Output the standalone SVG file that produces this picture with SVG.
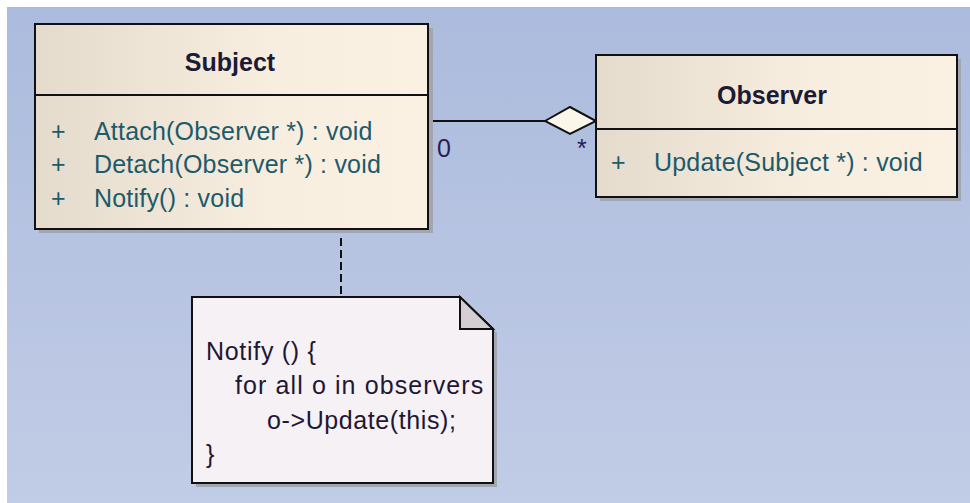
<svg xmlns="http://www.w3.org/2000/svg" width="970" height="503" viewBox="0 0 970 503">
  <defs>
    <linearGradient id="bg" x1="0" y1="0" x2="0" y2="1">
      <stop offset="0" stop-color="#acbbdd"/>
      <stop offset="1" stop-color="#c1cce6"/>
    </linearGradient>
    <linearGradient id="cls" x1="0" y1="0" x2="1" y2="0">
      <stop offset="0" stop-color="#e4dbcc"/>
      <stop offset="0.6" stop-color="#f8eee0"/>
      <stop offset="1" stop-color="#fbf1e3"/>
    </linearGradient>
    <style>
      .shadow { fill: #a2a6b0; }
      .box { fill: url(#cls); stroke: #111; stroke-width: 2; }
      .sep { stroke: #111; stroke-width: 2; }
      .title { font-family: "Liberation Sans", Arial, sans-serif; font-size: 25px; font-weight: bold; fill: #1b1b35; text-anchor: middle; }
      .op { font-family: "Liberation Sans", Arial, sans-serif; font-size: 25px; fill: #1d5a6a; letter-spacing: 0.2px; }
      .lbl { font-family: "Liberation Sans", Arial, sans-serif; font-size: 25px; fill: #2a1c55; }
      .note { fill: #f6f1f5; stroke: #111; stroke-width: 2; }
      .fold { fill: #d3cfd4; stroke: #111; stroke-width: 2; stroke-linejoin: miter; }
      .ntxt { font-family: "Liberation Sans", Arial, sans-serif; font-size: 25px; fill: #221733; }
      .conn { stroke: #111; stroke-width: 2; fill: none; }
    </style>
  </defs>

  <rect x="0" y="0" width="970" height="503" fill="#ffffff"/>
  <rect x="7" y="7" width="963" height="496" fill="url(#bg)"/>

  <g id="connectors">
    <line class="conn" x1="428" y1="121" x2="545" y2="121"/>
    <polygon points="545,121 570,107 596,121 570,134" fill="#fbf6ea" stroke="#111" stroke-width="2"/>
    <text class="lbl" x="437" y="157">0</text>
    <text class="lbl" x="577" y="157">*</text>
    <line class="conn" x1="341" y1="238" x2="341" y2="297" stroke-dasharray="8 4"/>
  </g>

  <g id="subject">
    <rect class="shadow" x="39" y="28" width="394" height="205"/>
    <rect class="box" x="35" y="24" width="393" height="205"/>
    <line class="sep" x1="35" y1="95" x2="428" y2="95"/>
    <text class="title" x="230" y="71">Subject</text>
    <text class="op" x="51" y="140">+</text>
    <text class="op" x="94" y="140">Attach(Observer *) : void</text>
    <text class="op" x="51" y="173">+</text>
    <text class="op" x="94" y="173">Detach(Observer *) : void</text>
    <text class="op" x="51" y="207">+</text>
    <text class="op" x="94" y="207">Notify() : void</text>
  </g>

  <g id="observer">
    <rect class="shadow" x="600" y="59" width="361" height="142"/>
    <rect class="box" x="596" y="55" width="361" height="142"/>
    <line class="sep" x1="596" y1="129" x2="957" y2="129"/>
    <text class="title" x="772" y="104">Observer</text>
    <text class="op" x="611" y="171">+</text>
    <text class="op" x="654" y="171" letter-spacing="0.3">Update(Subject *) : void</text>
  </g>

  <g id="note">
    <path class="shadow" d="M196,301 H464 L497,333 V487 H196 Z"/>
    <path class="note" d="M192,297 H460 L493,329 V483 H192 Z"/>
    <path class="fold" d="M460,297 V329 H493 Z"/>
    <text class="ntxt" x="206" y="360" letter-spacing="0.7">Notify () {</text>
    <text class="ntxt" x="235" y="394" letter-spacing="1.1">for all o in observers</text>
    <text class="ntxt" x="267" y="429" letter-spacing="0.6">o-&gt;Update(this);</text>
    <text class="ntxt" x="206" y="463">}</text>
  </g>
</svg>
